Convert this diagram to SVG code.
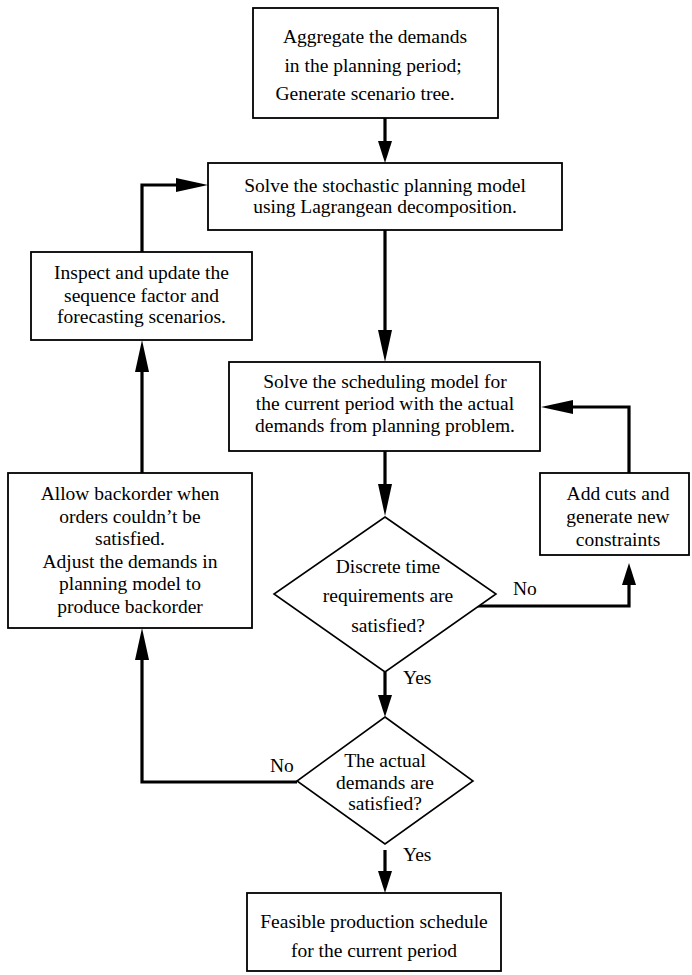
<svg xmlns="http://www.w3.org/2000/svg" width="692" height="975" viewBox="0 0 692 975">
<style>
  .box { fill: #fff; stroke: #000; stroke-width: 1.8; }
  .dia { fill: #fff; stroke: #000; stroke-width: 1.6; }
  text { font-family: 'Liberation Serif', 'DejaVu Serif', serif; font-size: 19.5px; fill: #000; }
  .t { text-anchor: middle; }
  .c { fill: none; stroke: #000; stroke-width: 3.2; stroke-linejoin: miter; }
  .cl { marker-end: url(#ahL); }
  .cs { marker-end: url(#ahS); }
</style>
<defs>
  <marker id="ahL" viewBox="0 -7 32 14" refX="0" refY="0" markerWidth="32" markerHeight="14" markerUnits="userSpaceOnUse" orient="auto" overflow="visible">
    <path d="M0,-7 L32,0 L0,7 Z" fill="#000"/>
  </marker>
  <marker id="ahS" viewBox="0 -7 22 14" refX="0" refY="0" markerWidth="22" markerHeight="14" markerUnits="userSpaceOnUse" orient="auto" overflow="visible">
    <path d="M0,-7 L22,0 L0,7 Z" fill="#000"/>
  </marker>
</defs>

<g id="connectors">
  <path class="c cs" d="M385,118 L385,141"/>
  <path class="c cl" d="M385,230 L385,330"/>
  <path class="c cl" d="M142,252 L142,185 L176,185"/>
  <path class="c cl" d="M385,451 L385,484"/>
  <path class="c cs" d="M475,606 L629,606 L629,585"/>
  <path class="c cl" d="M629,473 L629,407 L573,407"/>
  <path class="c cs" d="M385,672 L385,695"/>
  <path class="c cl" d="M297,782 L142,782 L142,660"/>
  <path class="c cl" d="M142,473 L142,372"/>
  <path class="c cs" d="M385,850 L385,871"/>
  <text x="513" y="595">No</text>
  <text x="403" y="684">Yes</text>
  <text x="270" y="772">No</text>
  <text x="403" y="861">Yes</text>
</g>

<g id="aggregate">
  <rect class="box" x="253" y="8" width="245" height="110"/>
  <text class="t" x="375" y="43">Aggregate the demands</text>
  <text class="t" x="373" y="72">in the planning period;</text>
  <text class="t" x="365" y="100">Generate scenario tree.</text>
</g>

<g id="solve-planning">
  <rect class="box" x="208" y="163" width="354" height="67"/>
  <text class="t" x="385" y="192">Solve the stochastic planning model</text>
  <text class="t" x="385" y="213">using Lagrangean decomposition.</text>
</g>

<g id="inspect">
  <rect class="box" x="31" y="252" width="221" height="88"/>
  <text class="t" x="141.5" y="279">Inspect and update the</text>
  <text class="t" x="141.5" y="302">sequence factor and</text>
  <text class="t" x="141.5" y="323">forecasting scenarios.</text>
</g>

<g id="solve-scheduling">
  <rect class="box" x="229" y="362" width="311" height="89"/>
  <text class="t" x="385" y="388">Solve the scheduling model for</text>
  <text class="t" x="385" y="410">the current period with the actual</text>
  <text class="t" x="385" y="432">demands from planning problem.</text>
</g>

<g id="add-cuts">
  <rect class="box" x="540" y="473" width="149" height="82"/>
  <text class="t" x="618" y="500">Add cuts and</text>
  <text class="t" x="618" y="523">generate new</text>
  <text class="t" x="618" y="546">constraints</text>
</g>

<g id="backorder">
  <rect class="box" x="8" y="473" width="244" height="155"/>
  <text class="t" x="130" y="500">Allow backorder when</text>
  <text class="t" x="130" y="523">orders couldn’t be</text>
  <text class="t" x="130" y="545">satisfied.</text>
  <text class="t" x="130" y="568">Adjust the demands in</text>
  <text class="t" x="130" y="590">planning model to</text>
  <text class="t" x="130" y="613">produce backorder</text>
</g>

<g id="discrete-check">
  <polygon class="dia" points="385,517 496,594 385,672 274,594"/>
  <text class="t" x="388" y="573">Discrete time</text>
  <text class="t" x="388" y="602">requirements are</text>
  <text class="t" x="388" y="632">satisfied?</text>
</g>

<g id="demand-check">
  <polygon class="dia" points="385,717 473,781 385,844 297,781"/>
  <text class="t" x="385" y="767">The actual</text>
  <text class="t" x="385" y="789">demands are</text>
  <text class="t" x="385" y="810">satisfied?</text>
</g>

<g id="feasible">
  <rect class="box" x="247" y="893" width="254" height="78"/>
  <text class="t" x="374" y="928">Feasible production schedule</text>
  <text class="t" x="374" y="957">for the current period</text>
</g>
</svg>
